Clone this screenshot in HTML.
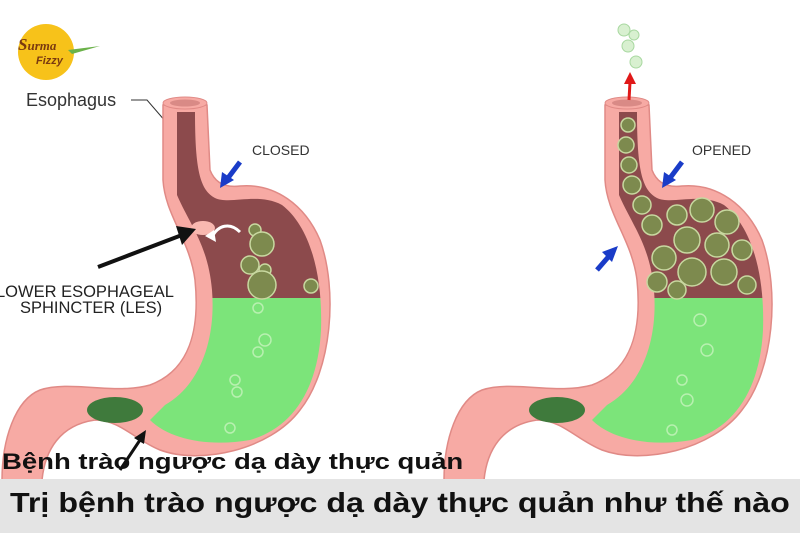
<!DOCTYPE html>
<html><head><meta charset="utf-8"><style>
body{margin:0;width:800px;height:533px;overflow:hidden;background:#fff;font-family:"Liberation Sans",sans-serif}
.t1{position:absolute;left:2px;top:449px;font:bold 22px "Liberation Sans","DejaVu Sans",sans-serif;color:#111;white-space:nowrap;transform:scaleX(1.25);transform-origin:0 0}
.bar{position:absolute;left:0;top:479px;width:800px;height:54px;background:#e4e4e4}
.t2{position:absolute;left:10px;top:487px;font:bold 28px "Liberation Sans","DejaVu Sans",sans-serif;color:#111;white-space:nowrap;transform:scaleX(1.15);transform-origin:0 0}
</style></head><body>
<svg width="800" height="533" style="position:absolute;left:0;top:0">
<defs>
<g id="stom">
<path d="M163,105 L163,180 C165,215 190,240 195,280 C200,330 190,370 150,385 C115,395 70,380 40,390 C15,400 2,440 2,480 L42,480 C45,450 60,425 95,420 C120,420 135,440 160,450 C200,465 270,450 300,410 C332,370 338,290 320,240 C305,205 275,183 240,186 C225,188 215,183 210,170 L207,105 Z" fill="#f7aaa4" stroke="#e08a86" stroke-width="1.5"/>
<ellipse cx="185" cy="103" rx="22" ry="6" fill="#f7aaa4" stroke="#e08a86"/>
<ellipse cx="185" cy="103" rx="15" ry="3.5" fill="#d98a86"/>
<ellipse cx="115" cy="410" rx="28" ry="13" fill="#3f7a3c"/>
</g>
<clipPath id="inL"><path d="M177,112 L177,195 C190,225 208,245 212,290 C216,340 200,385 165,405 L150,420 C170,440 210,447 250,440 C292,428 318,390 321,330 C323,270 308,225 282,205 C258,192 230,205 215,198 C200,190 195,170 195,112 Z"/></clipPath>
</defs>
<!-- logo -->
<circle cx="46" cy="52" r="28" fill="#f7c21a"/>
<text x="18" y="50" font-size="17" font-style="italic" font-weight="bold" fill="#7a3a10" font-family="Liberation Serif">S<tspan font-size="13">urma</tspan></text>
<text x="36" y="64" font-size="11" font-style="italic" font-weight="bold" fill="#7a3a10">Fizzy</text>
<path d="M68,50 L100,46 L72,54Z" fill="#6bb24a"/>
<text x="26" y="106" font-size="18" fill="#333">Esophagus</text>
<path d="M131,100 L147,100 L166,122" fill="none" stroke="#333"/>
<!-- left stomach -->
<use href="#stom"/>
<g clip-path="url(#inL)">
<rect x="150" y="100" width="190" height="198" fill="#8c4a4c"/>
<rect x="150" y="298" width="190" height="160" fill="#7ce47a"/>
</g>
<ellipse cx="203" cy="228" rx="12" ry="7" fill="#f9b8b0"/>
<g fill="#7d8a4e" stroke="#c8d8a0" stroke-width="1.5">
<circle cx="255" cy="230" r="6"/><circle cx="262" cy="244" r="12"/><circle cx="250" cy="265" r="9"/><circle cx="265" cy="270" r="6"/><circle cx="262" cy="285" r="14"/><circle cx="311" cy="286" r="7"/>
</g>
<g fill="none" stroke="#b8f0b0" stroke-width="1.5"><circle cx="258" cy="308" r="5"/><circle cx="265" cy="340" r="6"/><circle cx="258" cy="352" r="5"/><circle cx="235" cy="380" r="5"/><circle cx="237" cy="392" r="5"/><circle cx="230" cy="428" r="5"/></g>
<path d="M240,232 C230,222 218,225 212,237" fill="none" stroke="#fff" stroke-width="3"/>
<path d="M205,236 L214,230 L216,242Z" fill="#fff"/>
<line x1="98" y1="267" x2="182" y2="235" stroke="#111" stroke-width="4"/>
<path d="M196,229 L176,226 L182,245Z" fill="#111"/>
<text x="-4" y="297" font-size="16.5" fill="#222">LOWER ESOPHAGEAL</text>
<text x="20" y="313" font-size="16.5" fill="#222">SPHINCTER (LES)</text>
<text x="252" y="155" font-size="14" fill="#333">CLOSED</text>
<line x1="240" y1="162" x2="228" y2="178" stroke="#1a3cc8" stroke-width="5"/>
<path d="M220,188 L222,172 L234,180Z" fill="#1a3cc8"/>
<line x1="120" y1="470" x2="140" y2="440" stroke="#111" stroke-width="3"/>
<path d="M146,430 L134,438 L144,444Z" fill="#111"/>
<!-- right stomach -->
<g transform="translate(442,0)">
<use href="#stom"/>
<g clip-path="url(#inL)">
<rect x="150" y="100" width="190" height="198" fill="#8c4a4c"/>
<rect x="150" y="298" width="190" height="160" fill="#7ce47a"/>
</g>
<g fill="#7d8a4e" stroke="#c8d8a0" stroke-width="1.5">
<circle cx="186" cy="125" r="7"/><circle cx="184" cy="145" r="8"/><circle cx="187" cy="165" r="8"/><circle cx="190" cy="185" r="9"/><circle cx="200" cy="205" r="9"/><circle cx="210" cy="225" r="10"/>
<circle cx="235" cy="215" r="10"/><circle cx="260" cy="210" r="12"/><circle cx="285" cy="222" r="12"/><circle cx="245" cy="240" r="13"/><circle cx="275" cy="245" r="12"/><circle cx="300" cy="250" r="10"/>
<circle cx="222" cy="258" r="12"/><circle cx="250" cy="272" r="14"/><circle cx="282" cy="272" r="13"/><circle cx="215" cy="282" r="10"/><circle cx="305" cy="285" r="9"/><circle cx="235" cy="290" r="9"/>
</g>
<g fill="none" stroke="#b8f0b0" stroke-width="1.5"><circle cx="258" cy="320" r="6"/><circle cx="265" cy="350" r="6"/><circle cx="240" cy="380" r="5"/><circle cx="245" cy="400" r="6"/><circle cx="230" cy="430" r="5"/></g>
<line x1="155" y1="270" x2="168" y2="255" stroke="#1a3cc8" stroke-width="5"/>
<path d="M176,246 L160,252 L170,262Z" fill="#1a3cc8"/>
<text x="250" y="155" font-size="14" fill="#333">OPENED</text>
<line x1="240" y1="162" x2="228" y2="178" stroke="#1a3cc8" stroke-width="5"/>
<path d="M220,188 L222,172 L234,180Z" fill="#1a3cc8"/>
<line x1="187" y1="100" x2="188" y2="82" stroke="#e01818" stroke-width="3"/>
<path d="M188,72 L182,84 L194,84Z" fill="#e01818"/>
<g fill="#d8f0d0" stroke="#a8d8a0"><circle cx="182" cy="30" r="6"/><circle cx="192" cy="35" r="5"/><circle cx="186" cy="46" r="6"/><circle cx="194" cy="62" r="6"/></g>
</g>
</svg>
<div class="t1">Bệnh trào ngược dạ dày thực quản</div>
<div class="bar"></div>
<div class="t2">Trị bệnh trào ngược dạ dày thực quản như thế nào</div>
</body></html>
